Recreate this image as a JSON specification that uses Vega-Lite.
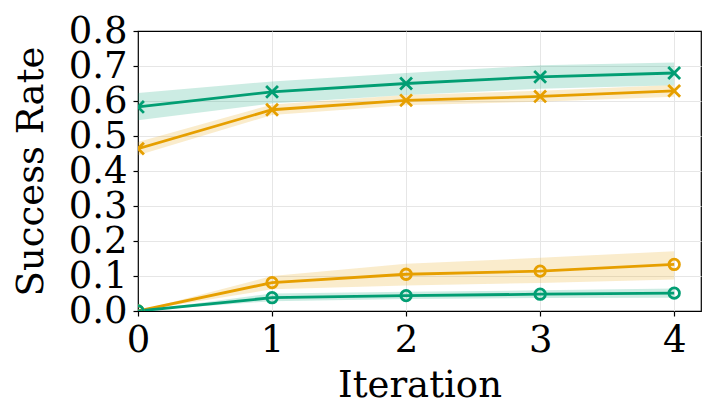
{
  "$schema": "https://vega.github.io/schema/vega-lite/v6.json",
  "width": 563,
  "height": 280,
  "autosize": {"type": "none"},
  "padding": {"left": 138, "top": 31, "right": 17, "bottom": 99},
  "background": "white",
  "config": {
    "view": {"stroke": "#000000", "strokeWidth": 1.2},
    "font": "DejaVu Serif",
    "axis": {
      "domain": false,
      "grid": true,
      "gridColor": "#e6e6e6",
      "gridWidth": 1,
      "tickColor": "#000000",
      "tickSize": 5,
      "tickWidth": 1.2,
      "labelFont": "DejaVu Serif",
      "labelFontSize": 37,
      "labelColor": "#000000",
      "titleFont": "DejaVu Serif",
      "titleFontSize": 37,
      "titleFontWeight": "normal",
      "titleColor": "#000000",
      "labelOverlap": false,
      "labelFlush": false
    }
  },
  "data": {
    "values": [
      {"iter": 0, "series": "green_x", "marker": "x", "mean": 0.583, "lo": 0.545, "hi": 0.623},
      {"iter": 1, "series": "green_x", "marker": "x", "mean": 0.626, "lo": 0.593, "hi": 0.656},
      {"iter": 2, "series": "green_x", "marker": "x", "mean": 0.650, "lo": 0.617, "hi": 0.680},
      {"iter": 3, "series": "green_x", "marker": "x", "mean": 0.669, "lo": 0.635, "hi": 0.702},
      {"iter": 4, "series": "green_x", "marker": "x", "mean": 0.680, "lo": 0.645, "hi": 0.710},
      {"iter": 0, "series": "orange_x", "marker": "x", "mean": 0.464, "lo": 0.445, "hi": 0.483},
      {"iter": 1, "series": "orange_x", "marker": "x", "mean": 0.575, "lo": 0.560, "hi": 0.590},
      {"iter": 2, "series": "orange_x", "marker": "x", "mean": 0.602, "lo": 0.588, "hi": 0.617},
      {"iter": 3, "series": "orange_x", "marker": "x", "mean": 0.613, "lo": 0.598, "hi": 0.629},
      {"iter": 4, "series": "orange_x", "marker": "x", "mean": 0.629, "lo": 0.612, "hi": 0.646},
      {"iter": 0, "series": "orange_o", "marker": "o", "mean": 0.0, "lo": 0.0, "hi": 0.0},
      {"iter": 1, "series": "orange_o", "marker": "o", "mean": 0.081, "lo": 0.062, "hi": 0.100},
      {"iter": 2, "series": "orange_o", "marker": "o", "mean": 0.105, "lo": 0.073, "hi": 0.135},
      {"iter": 3, "series": "orange_o", "marker": "o", "mean": 0.114, "lo": 0.080, "hi": 0.152},
      {"iter": 4, "series": "orange_o", "marker": "o", "mean": 0.133, "lo": 0.090, "hi": 0.171},
      {"iter": 0, "series": "green_o", "marker": "o", "mean": 0.0, "lo": 0.0, "hi": 0.0},
      {"iter": 1, "series": "green_o", "marker": "o", "mean": 0.038, "lo": 0.028, "hi": 0.050},
      {"iter": 2, "series": "green_o", "marker": "o", "mean": 0.044, "lo": 0.034, "hi": 0.055},
      {"iter": 3, "series": "green_o", "marker": "o", "mean": 0.048, "lo": 0.037, "hi": 0.059},
      {"iter": 4, "series": "green_o", "marker": "o", "mean": 0.051, "lo": 0.038, "hi": 0.064}
    ]
  },
  "encoding": {
    "x": {
      "field": "iter",
      "type": "quantitative",
      "scale": {"domain": [0, 4.2], "nice": false, "zero": false},
      "axis": {
        "values": [0, 1, 2, 3, 4],
        "format": "d",
        "title": "Iteration",
        "labelPadding": 6,
        "titlePadding": 9,
        "labelOverlap": false,
        "gridColor": {"condition": {"test": "datum.value === 0", "value": "transparent"}, "value": "#e6e6e6"}
      }
    },
    "y": {
      "field": "mean",
      "type": "quantitative",
      "scale": {"domain": [0, 0.8], "nice": false},
      "axis": {
        "values": [0, 0.1, 0.2, 0.3, 0.4, 0.5, 0.6, 0.7, 0.8],
        "format": ".1f",
        "title": "Success Rate",
        "labelPadding": 6,
        "titlePadding": 18,
        "labelOverlap": false,
        "gridColor": {"condition": {"test": "datum.value === 0 || datum.value >= 0.79", "value": "transparent"}, "value": "#e6e6e6"}
      }
    },
    "color": {
      "field": "series",
      "type": "nominal",
      "scale": {
        "domain": ["green_x", "orange_x", "orange_o", "green_o"],
        "range": ["#029E73", "#E69F00", "#E69F00", "#029E73"]
      },
      "legend": null
    }
  },
  "layer": [
    {
      "mark": {"type": "area", "opacity": 0.2, "clip": true},
      "encoding": {
        "y": {
          "field": "lo",
          "type": "quantitative",
          "scale": {"domain": [0, 0.8], "nice": false},
          "axis": {
            "values": [0, 0.1, 0.2, 0.3, 0.4, 0.5, 0.6, 0.7, 0.8],
            "format": ".1f",
            "title": "Success Rate",
            "labelPadding": 6,
            "titlePadding": 18,
            "labelOverlap": false,
            "gridColor": {"condition": {"test": "datum.value === 0 || datum.value >= 0.79", "value": "transparent"}, "value": "#e6e6e6"}
          }
        },
        "y2": {"field": "hi"}
      }
    },
    {
      "mark": {"type": "line", "strokeWidth": 2.8, "clip": true},
      "encoding": {}
    },
    {
      "mark": {"type": "point", "filled": false, "strokeWidth": 2.8, "opacity": 1, "clip": true},
      "encoding": {
        "shape": {
          "field": "marker",
          "type": "nominal",
          "scale": {"domain": ["x", "o"], "range": ["M-1,-1L1,1M-1,1L1,-1", "circle"]},
          "legend": null
        },
        "size": {
          "field": "marker",
          "type": "nominal",
          "scale": {"domain": ["x", "o"], "range": [140, 110]},
          "legend": null
        }
      }
    }
  ]
}
